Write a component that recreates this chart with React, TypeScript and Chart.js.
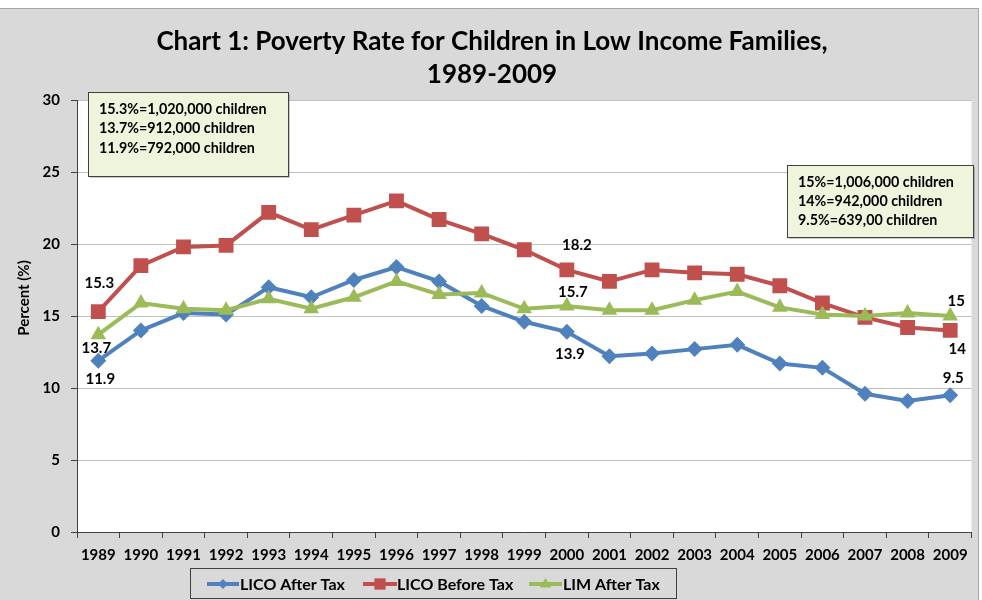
import React, { useEffect, useRef } from 'react';
import { Chart, registerables } from 'chart.js';
Chart.register(...registerables);

const years = ['1989','1990','1991','1992','1993','1994','1995','1996','1997','1998','1999','2000','2001','2002','2003','2004','2005','2006','2007','2008','2009'];
const licoAfterTax = [11.9, 14.0, 15.2, 15.1, 17.0, 16.3, 17.5, 18.4, 17.4, 15.7, 14.6, 13.9, 12.2, 12.4, 12.7, 13.0, 11.7, 11.4, 9.6, 9.1, 9.5];
const licoBeforeTax = [15.3, 18.5, 19.8, 19.9, 22.2, 21.0, 22.0, 23.0, 21.7, 20.7, 19.6, 18.2, 17.4, 18.2, 18.0, 17.9, 17.1, 15.9, 14.9, 14.2, 14];
const limAfterTax = [13.7, 15.9, 15.5, 15.4, 16.2, 15.5, 16.3, 17.4, 16.5, 16.6, 15.5, 15.7, 15.4, 15.4, 16.1, 16.7, 15.6, 15.1, 15.0, 15.2, 15];
const seriesNames = ['LICO After Tax', 'LICO Before Tax', 'LIM After Tax'];
const seriesColors = ['#4f81bd', '#c0504d', '#9bbb59'];
const yMin = 0;
const yMax = 30;
const yStep = 5;
const titleLines = ['Chart 1: Poverty Rate for Children in Low Income Families,', '1989-2009'];
const yAxisTitle = 'Percent (%)';
const leftNote = ['15.3%=1,020,000 children', '13.7%=912,000 children', '11.9%=792,000 children'];
const rightNote = ['15%=1,006,000 children', '14%=942,000 children', '9.5%=639,00 children'];

const FONT = 'Lato, "Open Sans", sans-serif';

function drawMarker(ctx: CanvasRenderingContext2D, style: string, x: number, y: number, r: number, color: string) {
  ctx.save();
  ctx.fillStyle = color;
  ctx.beginPath();
  if (style === 'rectRot') {
    ctx.moveTo(x - r, y); ctx.lineTo(x, y - r); ctx.lineTo(x + r, y); ctx.lineTo(x, y + r);
  } else if (style === 'rect') {
    const s = r * Math.SQRT1_2;
    ctx.rect(x - s, y - s, 2 * s, 2 * s);
  } else {
    ctx.moveTo(x, y - r); ctx.lineTo(x + r * 0.95, y + r * 0.6); ctx.lineTo(x - r * 0.95, y + r * 0.6);
  }
  ctx.closePath();
  ctx.fill();
  ctx.restore();
}

const decorPlugin = {
  id: 'decor',
  beforeDraw(chart: any) {
    const { ctx, chartArea } = chart;
    ctx.save();
    ctx.fillStyle = '#ffffff';
    ctx.fillRect(0, 0, chart.width, chart.height);
    ctx.fillStyle = '#d9d9d9';
    ctx.fillRect(0, 8, 978, 592);
    ctx.strokeStyle = '#a6a6a6';
    ctx.lineWidth = 1;
    ctx.beginPath();
    ctx.moveTo(0, 8.5); ctx.lineTo(978.5, 8.5); ctx.lineTo(978.5, 600);
    ctx.stroke();
    ctx.fillStyle = '#ffffff';
    ctx.fillRect(chartArea.left, chartArea.top, chartArea.right - chartArea.left, chartArea.bottom - chartArea.top);
    ctx.restore();
  },
  afterDraw(chart: any) {
    const { ctx } = chart;
    ctx.save();
    // title
    ctx.fillStyle = '#000';
    ctx.textAlign = 'center';
    ctx.textBaseline = 'middle';
    ctx.font = `bold 26px ${FONT}`;
    ctx.fillText(titleLines[0], 492, 42);
    ctx.fillText(titleLines[1], 492, 75);

    // y axis title
    ctx.save();
    ctx.translate(24, 298);
    ctx.rotate(-Math.PI / 2);
    ctx.font = `bold 15px ${FONT}`;
    ctx.fillText(yAxisTitle, 0, 0);
    ctx.restore();

    // data labels
    const datas = [licoAfterTax, licoBeforeTax, limAfterTax];
    const specs = [
      { ds: 1, i: 0, dx: 1, dy: -29 },
      { ds: 2, i: 0, dx: -2, dy: 13 },
      { ds: 0, i: 0, dx: 2, dy: 19 },
      { ds: 1, i: 11, dx: 10, dy: -25 },
      { ds: 2, i: 11, dx: 6, dy: -14 },
      { ds: 0, i: 11, dx: 3, dy: 22 },
      { ds: 2, i: 20, dx: 6, dy: -15 },
      { ds: 1, i: 20, dx: 7, dy: 19 },
      { ds: 0, i: 20, dx: 3, dy: -17 },
    ];
    ctx.font = `bold 15px ${FONT}`;
    specs.forEach((s) => {
      const el = chart.getDatasetMeta(s.ds).data[s.i];
      ctx.fillText(String(datas[s.ds][s.i]), el.x + s.dx, el.y + s.dy);
    });

    // notes
    const drawNote = (lines: string[], x: number, y: number, w: number, h: number, lh: number) => {
      ctx.fillStyle = 'rgba(0,0,0,0.2)';
      ctx.fillRect(x + 2, y + 2, w, h);
      ctx.fillStyle = '#eff4dc';
      ctx.fillRect(x, y, w, h);
      ctx.strokeStyle = '#404040';
      ctx.lineWidth = 1;
      ctx.strokeRect(x + 0.5, y + 0.5, w, h);
      ctx.fillStyle = '#000';
      ctx.textAlign = 'left';
      ctx.font = `bold 14.3px ${FONT}`;
      lines.forEach((t, k) => ctx.fillText(t, x + 11, y + 17 + k * lh));
    };
    drawNote(leftNote, 88, 92, 200, 84, 19.5);
    drawNote(rightNote, 787, 165, 186, 72, 19);

    // legend
    ctx.strokeStyle = '#404040';
    ctx.lineWidth = 1;
    ctx.strokeRect(190.5, 568.5, 486, 30);
    const items = [
      { x0: 207, x1: 239, tx: 240, style: 'rectRot', r: 5 },
      { x0: 363, x1: 397, tx: 397, style: 'rect', r: 8 },
      { x0: 529, x1: 562, tx: 563, style: 'triangle', r: 6 },
    ];
    ctx.font = `bold 16px ${FONT}`;
    ctx.textAlign = 'left';
    items.forEach((it, k) => {
      ctx.strokeStyle = seriesColors[k];
      ctx.lineWidth = 4;
      ctx.beginPath();
      ctx.moveTo(it.x0, 584); ctx.lineTo(it.x1, 584);
      ctx.stroke();
      drawMarker(ctx, it.style, (it.x0 + it.x1) / 2, 584, it.r, seriesColors[k]);
      ctx.fillStyle = '#000';
      ctx.fillText(seriesNames[k], it.tx, 585);
    });
    ctx.restore();
  },
};

export default function App() {
  const ref = useRef<HTMLCanvasElement>(null);
  useEffect(() => {
    if (!ref.current) return;
    const yTickValues: number[] = [];
    for (let v = yMin; v <= yMax; v += yStep) yTickValues.push(v);
    const chart = new Chart(ref.current, {
      type: 'line',
      data: {
        labels: years,
        datasets: [
          { label: seriesNames[0], data: licoAfterTax, order: 3, borderColor: seriesColors[0], backgroundColor: seriesColors[0], borderWidth: 4, pointStyle: 'rectRot', pointRadius: 8, pointBorderWidth: 0, tension: 0 },
          { label: seriesNames[1], data: licoBeforeTax, order: 2, borderColor: seriesColors[1], backgroundColor: seriesColors[1], borderWidth: 4, pointStyle: 'rect', pointRadius: 10.5, pointBorderWidth: 0, tension: 0 },
          { label: seriesNames[2], data: limAfterTax, order: 1, borderColor: seriesColors[2], backgroundColor: seriesColors[2], borderWidth: 4, pointStyle: 'triangle', pointRadius: 9, pointBorderWidth: 0, tension: 0 },
        ] as any,
      },
      options: {
        responsive: false,
        animation: false,
        layout: { padding: { top: 100, left: 0, right: 9, bottom: 0 } },
        plugins: { legend: { display: false }, title: { display: false }, tooltip: { enabled: false } },
        scales: {
          x: {
            type: 'category',
            offset: true,
            afterFit: (s: any) => { s.height = 68; },
            grid: { display: true, drawOnChartArea: false, drawTicks: true, tickLength: 6, tickColor: '#404040', offset: true },
            border: { color: '#404040', width: 1 },
            ticks: { color: '#000', font: { family: FONT, weight: 'bold', size: 15 }, padding: 8, maxRotation: 0, autoSkip: false },
          },
          y: {
            min: yMin,
            max: yMax,
            afterFit: (s: any) => { s.width = 77; },
            afterBuildTicks: (s: any) => { s.ticks = yTickValues.map((v) => ({ value: v })); },
            grid: { color: '#bfbfbf', tickColor: '#404040', tickLength: 6, drawTicks: true },
            border: { color: '#404040', width: 1 },
            ticks: { color: '#000', font: { family: FONT, weight: 'bold', size: 15 }, padding: 11 },
          },
        },
      },
      plugins: [decorPlugin],
    } as any);
    return () => chart.destroy();
  }, []);
  return (
    <div style={{ position: 'fixed', left: 0, top: 0, width: 982, height: 600 }}>
      <canvas ref={ref} width={982} height={600} />
    </div>
  );
}
